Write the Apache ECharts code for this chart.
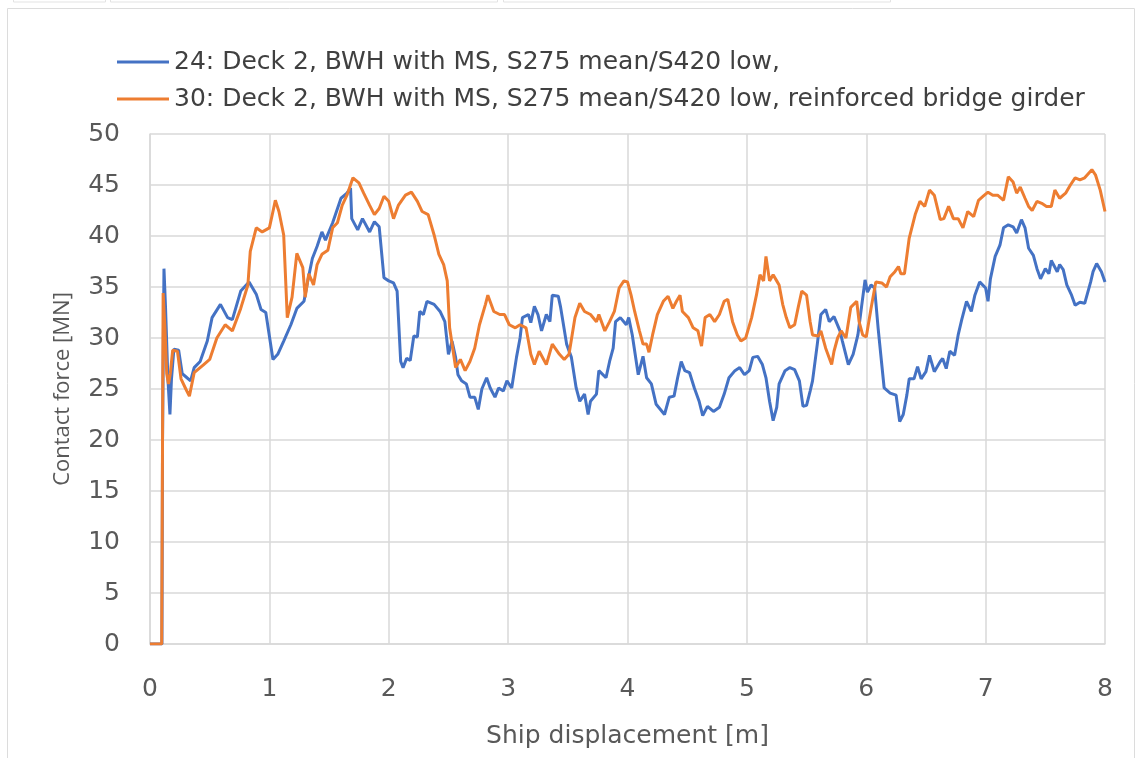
<!DOCTYPE html>
<html>
<head>
<meta charset="utf-8">
<title>Contact force vs ship displacement</title>
<script src="https://cdn.jsdelivr.net/npm/echarts@6/dist/echarts.min.js"></script>
<style>
  html, body { margin: 0; padding: 0; background: #ffffff; }
  #chart { width: 1137px; height: 758px; }
</style>
</head>
<body>
<div id="chart"></div>
<script>
// Series names
const seriesNames = [
  '24: Deck 2, BWH with MS, S275 mean/S420 low,',
  '30: Deck 2, BWH with MS, S275 mean/S420 low, reinforced bridge girder'
];

// Case 24: ship displacement [m] and contact force [MN]
const disp24 = [0, 0.1, 0.105, 0.117, 0.13, 0.15, 0.167, 0.18, 0.2, 0.24, 0.27, 0.3, 0.34, 0.37, 0.42, 0.48, 0.52, 0.59, 0.65, 0.69, 0.76, 0.83, 0.89, 0.93, 0.97, 1.03, 1.07, 1.12, 1.18, 1.23, 1.29, 1.32, 1.36, 1.40, 1.44, 1.47, 1.53, 1.60, 1.65, 1.68, 1.69, 1.74, 1.78, 1.84, 1.88, 1.92, 1.96, 2.0, 2.04, 2.07, 2.1, 2.12, 2.15, 2.18, 2.21, 2.24, 2.26, 2.29, 2.32, 2.38, 2.43, 2.47, 2.5, 2.53, 2.56, 2.58, 2.61, 2.65, 2.68, 2.72, 2.75, 2.78, 2.82, 2.85, 2.89, 2.92, 2.96, 2.99, 3.03, 3.07, 3.1, 3.12, 3.17, 3.19, 3.22, 3.25, 3.28, 3.32, 3.35, 3.37, 3.42, 3.44, 3.49, 3.53, 3.57, 3.6, 3.64, 3.67, 3.69, 3.74, 3.76, 3.82, 3.85, 3.88, 3.9, 3.94, 3.99, 4.01, 4.04, 4.09, 4.13, 4.16, 4.2, 4.24, 4.31, 4.35, 4.39, 4.42, 4.45, 4.48, 4.52, 4.56, 4.6, 4.63, 4.67, 4.72, 4.77, 4.81, 4.85, 4.9, 4.94, 4.98, 5.02, 5.05, 5.09, 5.13, 5.16, 5.19, 5.22, 5.25, 5.27, 5.32, 5.36, 5.4, 5.44, 5.47, 5.5, 5.53, 5.55, 5.59, 5.62, 5.66, 5.69, 5.73, 5.78, 5.8, 5.85, 5.89, 5.93, 5.96, 5.99, 6.01, 6.04, 6.07, 6.1, 6.13, 6.15, 6.2, 6.25, 6.28, 6.31, 6.34, 6.36, 6.4, 6.43, 6.46, 6.5, 6.53, 6.57, 6.62, 6.64, 6.67, 6.7, 6.74, 6.77, 6.8, 6.84, 6.88, 6.91, 6.95, 7.0, 7.02, 7.04, 7.08, 7.12, 7.15, 7.19, 7.23, 7.26, 7.3, 7.33, 7.36, 7.4, 7.43, 7.46, 7.5, 7.53, 7.55, 7.6, 7.62, 7.65, 7.68, 7.72, 7.75, 7.79, 7.83, 7.88, 7.9, 7.93, 7.97, 8.0];
const force24 = [0, 0, 20, 36.8, 33, 26, 22.5, 26, 28.9, 28.8, 26.5, 26.2, 25.8, 27.1, 27.7, 29.7, 32, 33.3, 32, 31.8, 34.6, 35.5, 34.3, 32.8, 32.5, 27.9, 28.4, 29.7, 31.3, 32.9, 33.6, 35.5, 37.8, 39, 40.4, 39.6, 41.3, 43.7, 44.2, 44.7, 41.7, 40.6, 41.7, 40.4, 41.4, 40.9, 35.9, 35.6, 35.4, 34.6, 27.7, 27.1, 28, 27.8, 30.2, 30.1, 32.6, 32.3, 33.6, 33.3, 32.6, 31.6, 28.4, 29.7, 28.1, 26.4, 25.8, 25.5, 24.2, 24.2, 23, 25, 26.1, 25.1, 24.2, 25.1, 24.8, 25.8, 25.1, 28.1, 30, 32, 32.3, 31.5, 33.1, 32.3, 30.7, 32.3, 31.6, 34.2, 34.1, 33, 29.4, 28.1, 25.1, 23.8, 24.5, 22.5, 23.8, 24.5, 26.8, 26.1, 27.7, 29, 31.6, 32, 31.3, 32, 30.3, 26.4, 28.2, 26.1, 25.5, 23.5, 22.5, 24.2, 24.3, 26.1, 27.7, 26.8, 26.6, 25.1, 23.8, 22.4, 23.3, 22.8, 23.2, 24.5, 26.1, 26.8, 27.1, 26.4, 26.8, 28.1, 28.2, 27.4, 26.1, 23.8, 21.9, 23.2, 25.5, 26.8, 27.1, 26.9, 25.8, 23.3, 23.4, 24.8, 25.8, 29.4, 32.3, 32.8, 31.6, 32.1, 30.7, 29.7, 27.4, 28.4, 30.3, 33, 35.7, 34.5, 35.2, 34.9, 30.9, 27.4, 25.1, 24.6, 24.4, 21.8, 22.5, 24.4, 26, 26, 27.2, 26, 26.7, 28.3, 26.7, 27.7, 28, 27, 28.7, 28.3, 30.3, 31.8, 33.6, 32.6, 34.2, 35.5, 34.9, 33.6, 35.8, 38, 39.1, 40.8, 41.1, 40.9, 40.3, 41.6, 40.8, 38.8, 38.1, 36.8, 35.8, 36.8, 36.3, 37.6, 36.5, 37.2, 36.7, 35.2, 34.2, 33.2, 33.5, 33.4, 35.5, 36.5, 37.3, 36.5, 35.5];

// Case 30: ship displacement [m] and contact force [MN]
const disp30 = [0, 0.098, 0.11, 0.125, 0.14, 0.155, 0.17, 0.19, 0.23, 0.26, 0.3, 0.33, 0.37, 0.45, 0.5, 0.56, 0.63, 0.69, 0.76, 0.82, 0.84, 0.89, 0.94, 1.0, 1.03, 1.05, 1.08, 1.12, 1.15, 1.19, 1.23, 1.28, 1.30, 1.33, 1.37, 1.40, 1.44, 1.49, 1.53, 1.57, 1.61, 1.65, 1.70, 1.75, 1.79, 1.84, 1.88, 1.92, 1.96, 2.0, 2.04, 2.08, 2.14, 2.19, 2.24, 2.28, 2.33, 2.38, 2.42, 2.46, 2.49, 2.51, 2.56, 2.6, 2.64, 2.68, 2.72, 2.76, 2.81, 2.83, 2.88, 2.93, 2.97, 3.01, 3.06, 3.1, 3.15, 3.19, 3.22, 3.26, 3.32, 3.37, 3.43, 3.47, 3.51, 3.56, 3.6, 3.64, 3.69, 3.74, 3.76, 3.81, 3.85, 3.89, 3.93, 3.97, 4.0, 4.03, 4.06, 4.1, 4.13, 4.16, 4.18, 4.21, 4.25, 4.3, 4.34, 4.38, 4.41, 4.44, 4.46, 4.51, 4.55, 4.59, 4.62, 4.65, 4.69, 4.73, 4.77, 4.81, 4.84, 4.88, 4.92, 4.95, 4.99, 5.04, 5.08, 5.11, 5.14, 5.16, 5.19, 5.22, 5.25, 5.27, 5.3, 5.33, 5.36, 5.4, 5.43, 5.46, 5.5, 5.53, 5.55, 5.6, 5.62, 5.66, 5.71, 5.73, 5.76, 5.79, 5.83, 5.87, 5.92, 5.94, 5.97, 6.0, 6.04, 6.08, 6.13, 6.17, 6.2, 6.24, 6.27, 6.29, 6.32, 6.36, 6.41, 6.45, 6.49, 6.53, 6.57, 6.62, 6.65, 6.69, 6.73, 6.77, 6.81, 6.85, 6.9, 6.94, 6.98, 7.02, 7.06, 7.1, 7.15, 7.19, 7.23, 7.26, 7.29, 7.33, 7.36, 7.39, 7.43, 7.47, 7.51, 7.55, 7.58, 7.62, 7.67, 7.71, 7.75, 7.79, 7.83, 7.89, 7.92, 7.96, 8.0];
const force30 = [0, 0, 34.4, 31, 26.5, 25.5, 26.5, 28.8, 28.7, 26, 25, 24.3, 26.6, 27.4, 27.9, 30, 31.3, 30.7, 32.9, 35.2, 38.5, 40.8, 40.4, 40.8, 42.4, 43.5, 42.4, 40.1, 32, 34, 38.3, 36.9, 34, 36.3, 35.2, 37.2, 38.2, 38.6, 40.8, 41.3, 43, 44, 45.7, 45.2, 44.2, 43, 42.1, 42.7, 43.9, 43.4, 41.7, 43, 44, 44.3, 43.4, 42.4, 42.1, 40.1, 38.2, 37.2, 35.6, 31, 27.1, 27.9, 26.8, 27.7, 29, 31.3, 33.3, 34.2, 32.6, 32.3, 32.3, 31.3, 31, 31.3, 31, 28.4, 27.4, 28.7, 27.4, 29.4, 28.4, 27.9, 28.4, 32, 33.4, 32.6, 32.3, 31.6, 32.3, 30.7, 31.6, 32.6, 34.9, 35.6, 35.5, 34.2, 32.6, 30.7, 29.4, 29.4, 28.6, 30.3, 32.3, 33.6, 34.1, 32.9, 33.6, 34.2, 32.6, 32, 31, 30.7, 29.2, 32, 32.3, 31.6, 32.3, 33.6, 33.8, 31.6, 30.3, 29.7, 30, 32, 34.2, 36.2, 35.6, 38, 35.6, 36.2, 35.6, 35.2, 33.3, 32, 31, 31.3, 33, 34.6, 34.2, 31.6, 30.3, 30.2, 30.7, 29, 27.4, 28.7, 30, 30.7, 30, 33, 33.6, 31.6, 30.3, 30.1, 32.9, 35.5, 35.4, 35, 36, 36.5, 37, 36.3, 36.3, 39.8, 42.1, 43.4, 42.9, 44.5, 44, 41.6, 41.7, 42.9, 41.7, 41.7, 40.8, 42.4, 41.9, 43.5, 43.9, 44.3, 44, 44, 43.5, 45.8, 45.3, 44.2, 44.8, 43.7, 42.9, 42.5, 43.4, 43.2, 42.9, 42.9, 44.5, 43.7, 44.2, 45, 45.7, 45.5, 45.7, 46.5, 46, 44.5, 42.4];

// Axis ranges and ticks
const xTicks = [0, 1, 2, 3, 4, 5, 6, 7, 8];
const yTicks = [0, 5, 10, 15, 20, 25, 30, 35, 40, 45, 50];

const lineColors = ['#4472C4', '#ED7D31'];
const textColor = '#595959';
const gridColor = '#d9d9d9';
const wideFont = '"DejaVu Sans", "Noto Sans", sans-serif';
const narrowFont = '"Open Sans", "Noto Sans", sans-serif';

function pairs(xs, ys) {
  return xs.map((x, i) => [x, ys[i]]);
}

const chart = echarts.init(document.getElementById('chart'), null, { renderer: 'canvas' });

chart.setOption({
  backgroundColor: '#ffffff',
  animation: false,
  textStyle: { fontFamily: wideFont },
  graphic: [
    // outer frame of the chart area and the tabs above it
    { type: 'rect', shape: { x: 7.5, y: 8.5, width: 1127, height: 800 }, style: { fill: 'none', stroke: '#dcdcdc', lineWidth: 1 }, silent: true },
    { type: 'rect', shape: { x: 13.5, y: -6, width: 92, height: 8 }, style: { fill: 'none', stroke: '#e3e3e3', lineWidth: 1 }, silent: true },
    { type: 'rect', shape: { x: 110.5, y: -6, width: 387, height: 8 }, style: { fill: 'none', stroke: '#e3e3e3', lineWidth: 1 }, silent: true },
    { type: 'rect', shape: { x: 503.5, y: -6, width: 387, height: 8 }, style: { fill: 'none', stroke: '#e3e3e3', lineWidth: 1 }, silent: true }
  ],
  legend: {
    orient: 'vertical',
    left: 112,
    top: 44,
    itemWidth: 52,
    itemHeight: 3,
    itemGap: 11,
    icon: 'rect',
    textStyle: { color: '#404040', fontSize: 25, lineHeight: 26, fontFamily: wideFont },
    data: seriesNames
  },
  grid: { left: 150, right: 32, top: 134, bottom: 114, containLabel: false },
  xAxis: {
    type: 'value',
    min: xTicks[0],
    max: xTicks[xTicks.length - 1],
    interval: 1,
    name: 'Ship displacement [m]',
    nameLocation: 'middle',
    nameGap: 80,
    nameTextStyle: { color: textColor, fontSize: 25, fontFamily: wideFont },
    axisLine: { show: true, lineStyle: { color: gridColor, width: 1.5 } },
    axisTick: { show: false },
    axisLabel: { color: textColor, fontSize: 25, margin: 33, fontFamily: wideFont },
    splitLine: { show: true, lineStyle: { color: gridColor, width: 1.5 } }
  },
  yAxis: {
    type: 'value',
    min: yTicks[0],
    max: yTicks[yTicks.length - 1],
    interval: 5,
    name: 'Contact force [MN]',
    nameLocation: 'middle',
    nameGap: 76,
    nameTextStyle: { color: textColor, fontSize: 22, fontFamily: narrowFont },
    axisLine: { show: true, lineStyle: { color: gridColor, width: 1.5 } },
    axisTick: { show: false },
    axisLabel: { color: textColor, fontSize: 25, margin: 30, fontFamily: wideFont },
    splitLine: { show: true, lineStyle: { color: gridColor, width: 1.5 } }
  },
  series: [
    {
      name: seriesNames[0],
      type: 'line',
      data: pairs(disp24, force24),
      showSymbol: false,
      symbol: 'none',
      lineStyle: { color: lineColors[0], width: 3 },
      itemStyle: { color: lineColors[0] },
      z: 2
    },
    {
      name: seriesNames[1],
      type: 'line',
      data: pairs(disp30, force30),
      showSymbol: false,
      symbol: 'none',
      lineStyle: { color: lineColors[1], width: 3 },
      itemStyle: { color: lineColors[1] },
      z: 3
    }
  ]
});
</script>
</body>
</html>
